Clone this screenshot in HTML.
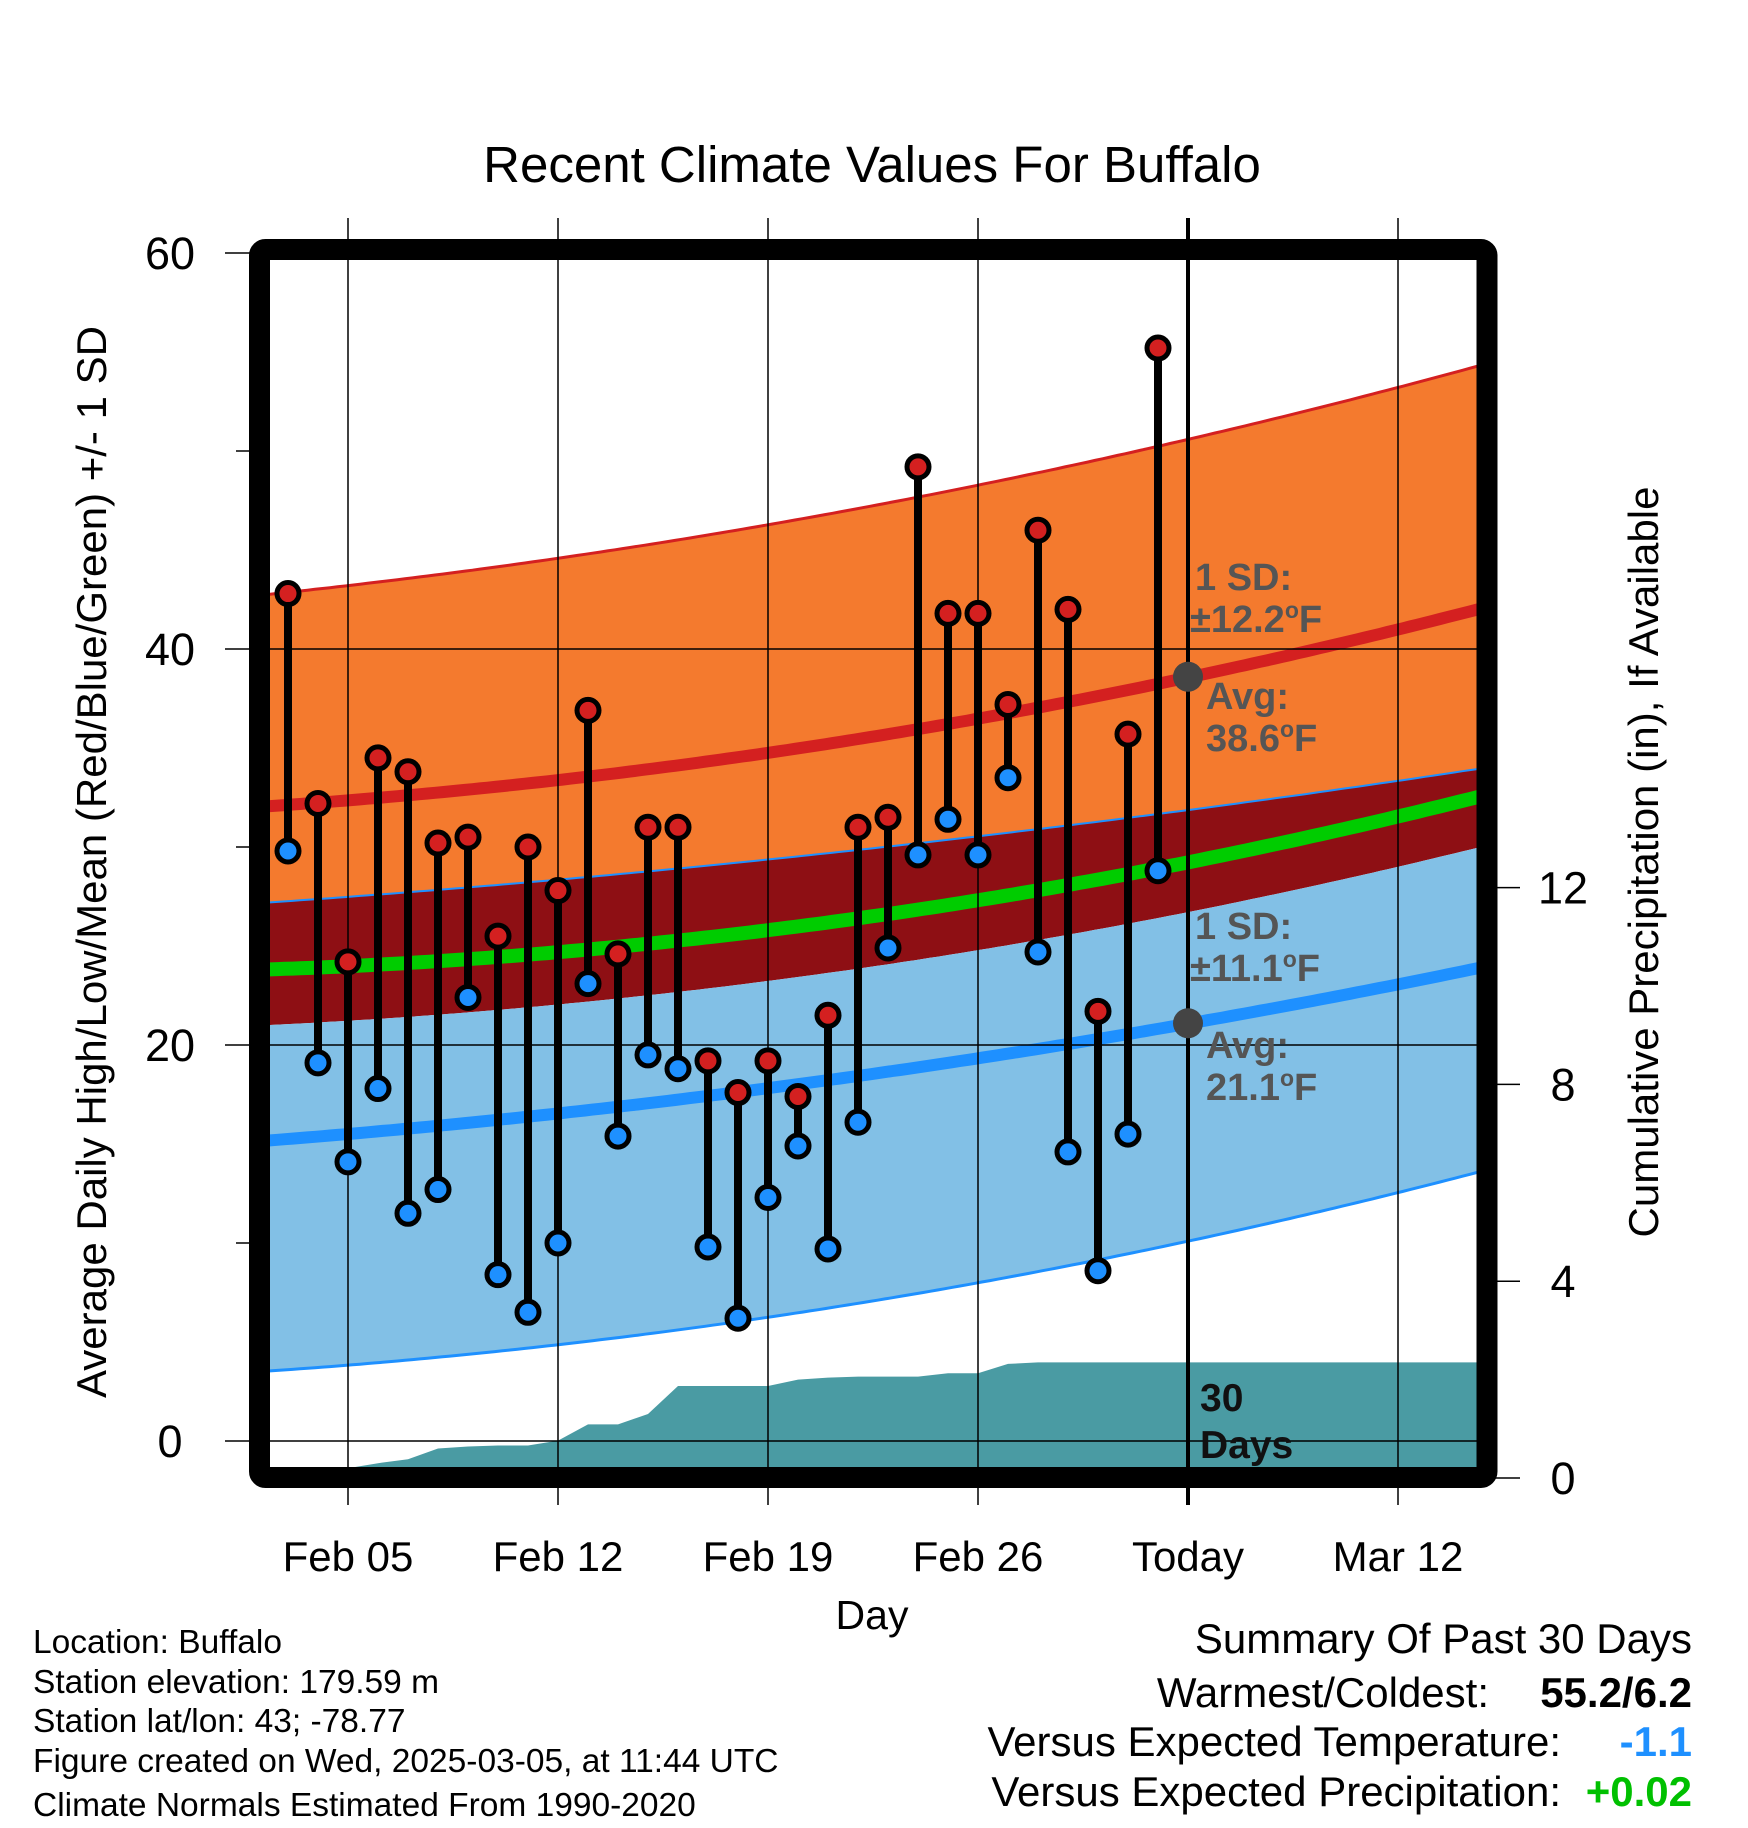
<!DOCTYPE html>
<html><head><meta charset="utf-8"><style>
html,body{margin:0;padding:0;background:#fff;}
svg{display:block;font-family:"Liberation Sans",sans-serif;}
</style></head><body>
<svg id="chart" width="1748" height="1828" viewBox="0 0 1748 1828">
<defs><clipPath id="plotclip"><rect x="270" y="260" width="1207" height="1207"/></clipPath></defs>
<text x="872" y="182" font-size="51" text-anchor="middle">Recent Climate Values For Buffalo</text>
<g id="bands" clip-path="url(#plotclip)"></g>
<g id="grid"></g>
<g id="marks"></g>
<rect x="259.5" y="249.5" width="1227.5" height="1228" fill="none" stroke="#000" stroke-width="21" rx="6"/>
<g id="axes"></g>
<g fill="#555" font-weight="bold" font-size="38">
<text x="1195" y="590">1 SD:</text>
<text x="1190" y="632">±12.2<tspan dy="-14" font-size="23">o</tspan><tspan dy="14">F</tspan></text>
<text x="1206" y="709">Avg:</text>
<text x="1206" y="751">38.6<tspan dy="-14" font-size="23">o</tspan><tspan dy="14">F</tspan></text>
<text x="1195" y="939">1 SD:</text>
<text x="1190" y="981">±11.1<tspan dy="-14" font-size="23">o</tspan><tspan dy="14">F</tspan></text>
<text x="1206" y="1058">Avg:</text>
<text x="1206" y="1100">21.1<tspan dy="-14" font-size="23">o</tspan><tspan dy="14">F</tspan></text>
</g>
<text x="1200" y="1411" font-size="39" font-weight="bold" fill="#111">30</text>
<text x="1200" y="1458" font-size="39" font-weight="bold" fill="#111">Days</text>
<text x="872" y="1629" font-size="41" text-anchor="middle">Day</text>
<text transform="translate(106,862) rotate(-90)" font-size="42" text-anchor="middle">Average Daily High/Low/Mean (Red/Blue/Green) +/- 1 SD</text>
<text transform="translate(1658,862) rotate(-90)" font-size="42" text-anchor="middle">Cumulative Precipitation (in), If Available</text>
<g font-size="33.5">
<text x="33" y="1653">Location: Buffalo</text>
<text x="33" y="1693">Station elevation: 179.59 m</text>
<text x="33" y="1732">Station lat/lon: 43; -78.77</text>
<text x="33" y="1772">Figure created on Wed, 2025-03-05, at 11:44 UTC</text>
<text x="33" y="1816">Climate Normals Estimated From 1990-2020</text>
</g>
<g font-size="42" text-anchor="end">
<text x="1692" y="1653">Summary Of Past 30 Days</text>
<text x="1489" y="1707">Warmest/Coldest:</text>
<text x="1692" y="1707" font-weight="bold">55.2/6.2</text>
<text x="1561" y="1756">Versus Expected Temperature:</text>
<text x="1692" y="1756" font-weight="bold" fill="#1e90ff">-1.1</text>
<text x="1561" y="1806">Versus Expected Precipitation:</text>
<text x="1692" y="1806" font-weight="bold" fill="#00c000">+0.02</text>
</g>
</svg>
<script>
// days counted from Feb 3 (index 0)
const highs=[42.8,32.2,24.2,34.5,33.8,30.2,30.5,25.5,30.0,27.8,36.9,24.6,31.0,31.0,19.2,17.6,19.2,17.4,21.5,31.0,31.5,49.2,41.8,41.8,37.2,46.0,42.0,21.7,35.7,55.2];
const lows=[29.8,19.1,14.1,17.8,11.5,12.7,22.4,8.4,6.5,10.0,23.1,15.4,19.5,18.8,9.8,6.2,12.3,14.9,9.7,16.1,24.9,29.6,31.4,29.6,33.5,24.7,14.6,8.6,15.5,28.8];
const precip=[0,0,0.2,0.3,0.38,0.6,0.64,0.66,0.66,0.76,1.09,1.09,1.3,1.87,1.87,1.87,1.87,2.0,2.04,2.06,2.06,2.06,2.13,2.13,2.32,2.35,2.35,2.35,2.35,2.35];
const normDays=[-0.6,2,9,16,23,30,37,39.7];
const normHigh=[32.1,32.3,33.4,34.8,36.4,38.6,41.0,42.0];
const highPlus=[42.9,43.2,44.4,46.1,48.4,50.8,53.3,54.1];
const highMinus=[27.3,27.5,28.2,29.2,30.6,32.2,33.2,33.9];
const normMean=[23.8,24.0,24.6,25.9,27.5,29.0,31.3,32.8];
const normLow=[15.3,15.5,16.3,17.8,19.5,21.1,23.1,23.8];
const lowPlus=[21.0,21.2,22.1,23.2,24.9,26.6,28.9,30.1];
const lowMinus=[3.6,3.8,4.8,6.2,8.1,10.1,12.5,13.6];
const yTicks=[0,20,40,60];
const yMinor=[10,30,50];
const pTicks=[0,4,8,12];
const xTickDays=[2,9,16,23,30,37];
const xTickLabels=["Feb 05","Feb 12","Feb 19","Feb 26","Today","Mar 12"];
const todayDay=30;
const todayHigh=38.6, todayLow=21.1;

const NS="http://www.w3.org/2000/svg";
const X=d=>288+30*d;
const Y=v=>1441-19.8*v;
const YP=p=>1478-49.2*p;
function mk(tag,attrs,parent){const e=document.createElementNS(NS,tag);for(const k in attrs)e.setAttribute(k,attrs[k]);parent.appendChild(e);return e;}
// least-squares quadratic fit for smooth normals
function fit(arr){let S=[0,0,0,0,0],T=[0,0,0];normDays.forEach((d,i)=>{for(let k=0;k<5;k++)S[k]+=Math.pow(d,k);for(let k=0;k<3;k++)T[k]+=arr[i]*Math.pow(d,k);});
 const M=[[S[0],S[1],S[2],T[0]],[S[1],S[2],S[3],T[1]],[S[2],S[3],S[4],T[2]]];
 for(let i=0;i<3;i++){for(let j=i+1;j<3;j++){const f=M[j][i]/M[i][i];for(let k=i;k<4;k++)M[j][k]-=f*M[i][k];}}
 const c=[0,0,0];for(let i=2;i>=0;i--){let s=M[i][3];for(let k=i+1;k<3;k++)s-=M[i][k]*c[k];c[i]=s/M[i][i];}
 return d=>c[0]+c[1]*d+c[2]*d*d;}
function curvePts(arr){const f=fit(arr);const pts=[];for(let d=normDays[0]-0.5;d<=normDays[normDays.length-1]+0.5;d+=0.25)pts.push([X(d),Y(f(d))]);return pts;}
function line(pts){return pts.map((p,i)=>(i?'L':'M')+p[0].toFixed(1)+' '+p[1].toFixed(1)).join(' ');}
function band(a,b){const pa=curvePts(a),pb=curvePts(b).reverse();return line(pa)+' '+line(pb).replace('M','L')+' Z';}
const bands=document.getElementById('bands');
let e;
e=mk('path',{d:band(highPlus,highMinus),fill:'#f47a2e'},bands);


e=mk('path',{d:band(highMinus,lowPlus),fill:'#8e0f14'},bands);


e=mk('path',{d:band(lowPlus,lowMinus),fill:'#82c0e6'},bands);


let pd='M'+X(0)+' '+YP(0);
precip.forEach((p,i)=>{pd+=' L'+X(i)+' '+YP(p).toFixed(1);});
pd+=' L1480 '+YP(precip[precip.length-1]).toFixed(1)+' L1480 1480 L'+X(0)+' 1480 Z';
e=mk('path',{d:pd,fill:'#4a9ba3'},bands);


const lines=[[highPlus,'#d42020',3,'high-plus-sd-line'],[highMinus,'#1e90ff',2,'high-minus-sd-line'],[lowMinus,'#1e90ff',3,'low-minus-sd-line'],[normMean,'#00cc00',14,'normal-mean-line'],[normHigh,'#d42020',12,'normal-high-line'],[normLow,'#1e90ff',12,'normal-low-line']];
lines.forEach(l=>{e=mk('path',{d:line(curvePts(l[0])),fill:'none',stroke:l[1],'stroke-width':l[2]},bands);

});
const grid=document.getElementById('grid');
xTickDays.forEach((d,i)=>{e=mk('line',{x1:X(d),x2:X(d),y1:218,y2:1505,stroke:'#000','stroke-width':d===todayDay?4:1.5},grid);

});
yTicks.forEach(v=>{e=mk('line',{x1:225,x2:1477,y1:Y(v),y2:Y(v),stroke:'#000','stroke-width':1.5},grid);

});
yMinor.forEach(v=>{e=mk('line',{x1:236,x2:260,y1:Y(v),y2:Y(v),stroke:'#000','stroke-width':1.5},grid);

});
pTicks.forEach(p=>{e=mk('line',{x1:1487,x2:1520,y1:YP(p),y2:YP(p),stroke:'#000','stroke-width':1.5},grid);

});
const marks=document.getElementById('marks');
highs.forEach((h,i)=>{e=mk('line',{x1:X(i),x2:X(i),y1:Y(h),y2:Y(lows[i]),stroke:'#000','stroke-width':8},marks);

});
highs.forEach((h,i)=>{e=mk('circle',{cx:X(i),cy:Y(h),r:11,fill:'#d42020',stroke:'#000','stroke-width':5},marks);


e=mk('circle',{cx:X(i),cy:Y(lows[i]),r:11,fill:'#1e90ff',stroke:'#000','stroke-width':5},marks);

});
e=mk('circle',{cx:X(todayDay),cy:Y(todayHigh),r:15,fill:'#444'},marks);


e=mk('circle',{cx:X(todayDay),cy:Y(todayLow),r:15,fill:'#444'},marks);


const axes=document.getElementById('axes');
yTicks.forEach(v=>{e=mk('text',{x:170,y:Y(v)+16,'font-size':45,'text-anchor':'middle'},axes);e.textContent=String(v);

});
pTicks.forEach(p=>{e=mk('text',{x:1563,y:YP(p)+16,'font-size':45,'text-anchor':'middle'},axes);e.textContent=String(p);

});
xTickDays.forEach((d,i)=>{e=mk('text',{x:X(d),y:1571,'font-size':42,'text-anchor':'middle'},axes);e.textContent=xTickLabels[i];

});
</script>
</body></html>
